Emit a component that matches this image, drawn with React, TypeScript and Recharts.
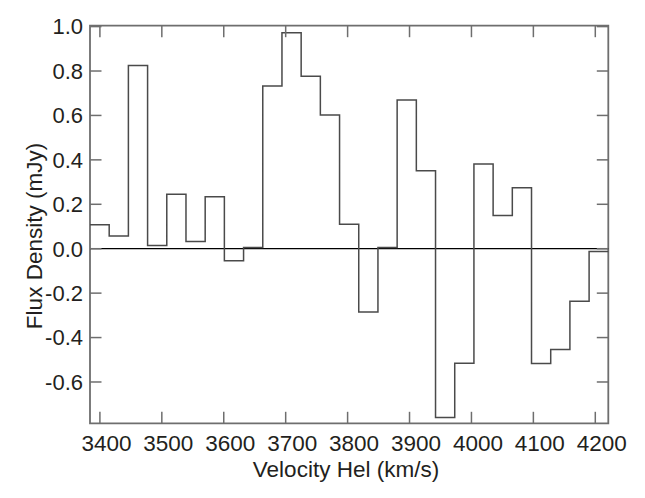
import React from 'react';
import { ComposedChart, Line, XAxis, YAxis, ReferenceLine, ReferenceArea } from 'recharts';

// Bin left edges (km/s) and flux densities (mJy)
const binEdges = [
  3384, 3415, 3446, 3477, 3508, 3539, 3570, 3601, 3632, 3663, 3694, 3725, 3756, 3787,
  3818, 3849, 3880, 3911, 3942, 3973, 4004, 4035, 4066, 4097, 4128, 4159, 4190,
];
const binEnd = 4221;
const fluxValues = [
  0.108, 0.057, 0.825, 0.015, 0.245, 0.033, 0.234, -0.054, 0.005, 0.732, 0.972, 0.776, 0.602, 0.11,
  -0.285, 0.005, 0.669, 0.351, -0.76, -0.516, 0.381, 0.149, 0.275, -0.517, -0.454, -0.237, -0.013,
];
const xTicks = [3400, 3500, 3600, 3700, 3800, 3900, 4000, 4100, 4200];
const yTicks = [-0.6, -0.4, -0.2, 0.0, 0.2, 0.4, 0.6, 0.8, 1.0];
const xDomain = [3384, 4221];
const yDomain = [-0.786, 1.004];

const data = [
  ...binEdges.map((v, i) => ({ v, f: fluxValues[i] })),
  { v: binEnd, f: fluxValues[fluxValues.length - 1] },
];

const W = 645;
const H = 498;
const MARGIN = { top: 25.7, right: 36.7, bottom: 14.7, left: 10 };
const PLOT_TOP = MARGIN.top;
const PLOT_RIGHT = W - MARGIN.right;
const TICK = 11.5;
const FONT = '"Liberation Sans", Arial, Helvetica, sans-serif';
const FRAME = '#6e6e6e';
const TEXT = '#231f20';

const XTick = (props: any) => {
  const { x, y, payload } = props;
  return (
    <g>
      <line x1={x} x2={x} y1={y} y2={y - TICK} stroke={FRAME} strokeWidth={1.5} />
      <line x1={x} x2={x} y1={PLOT_TOP} y2={PLOT_TOP + TICK} stroke={FRAME} strokeWidth={1.5} />
      <text x={x + 6.5} y={y + 27.5} textAnchor="middle" fontSize={22.5} fontFamily={FONT} fill={TEXT}>
        {payload.value}
      </text>
    </g>
  );
};

const YTick = (props: any) => {
  const { x, y, payload } = props;
  return (
    <g>
      <line x1={x} x2={x + TICK} y1={y} y2={y} stroke={FRAME} strokeWidth={1.5} />
      <line x1={PLOT_RIGHT} x2={PLOT_RIGHT - TICK} y1={y} y2={y} stroke={FRAME} strokeWidth={1.5} />
      <text x={x - 7} y={y + 7.9} textAnchor="end" fontSize={22} fontFamily={FONT} fill={TEXT}>
        {Number(payload.value).toFixed(1)}
      </text>
    </g>
  );
};

export default function App() {
  return (
    <div style={{ position: 'absolute', left: 0, top: 0, background: '#fff' }}>
      <ComposedChart width={W} height={H} data={data} margin={MARGIN}>
        <XAxis
          dataKey="v"
          type="number"
          domain={xDomain}
          ticks={xTicks}
          interval={0}
          tickSize={0}
          tickMargin={0}
          axisLine={false}
          tickLine={false}
          tick={<XTick />}
          height={60}
          label={{
            content: () => (
              <text x={346} y={477} textAnchor="middle" fontSize={22.5} fontFamily={FONT} fill={TEXT}>
                Velocity Hel (km/s)
              </text>
            ),
          }}
        />
        <YAxis
          type="number"
          domain={yDomain}
          ticks={yTicks}
          interval={0}
          tickSize={0}
          tickMargin={0}
          axisLine={false}
          tickLine={false}
          tick={<YTick />}
          width={80}
          label={{
            content: () => (
              <text
                x={42}
                y={236}
                transform="rotate(-90, 42, 236)"
                textAnchor="middle"
                fontSize={22.5}
                fontFamily={FONT}
                fill={TEXT}
              >
                Flux Density (mJy)
              </text>
            ),
          }}
        />
        <ReferenceArea
          x1={xDomain[0]}
          x2={xDomain[1]}
          y1={yDomain[0]}
          y2={yDomain[1]}
          fill="none"
          stroke={FRAME}
          strokeWidth={1.8}
          ifOverflow="visible"
        />
        <ReferenceLine y={0} stroke="#000" strokeWidth={1.2} />
        <Line
          dataKey="f"
          type="stepAfter"
          stroke="#4a4a4a"
          strokeWidth={1.5}
          dot={false}
          activeDot={false}
          isAnimationActive={false}
        />
      </ComposedChart>
    </div>
  );
}
